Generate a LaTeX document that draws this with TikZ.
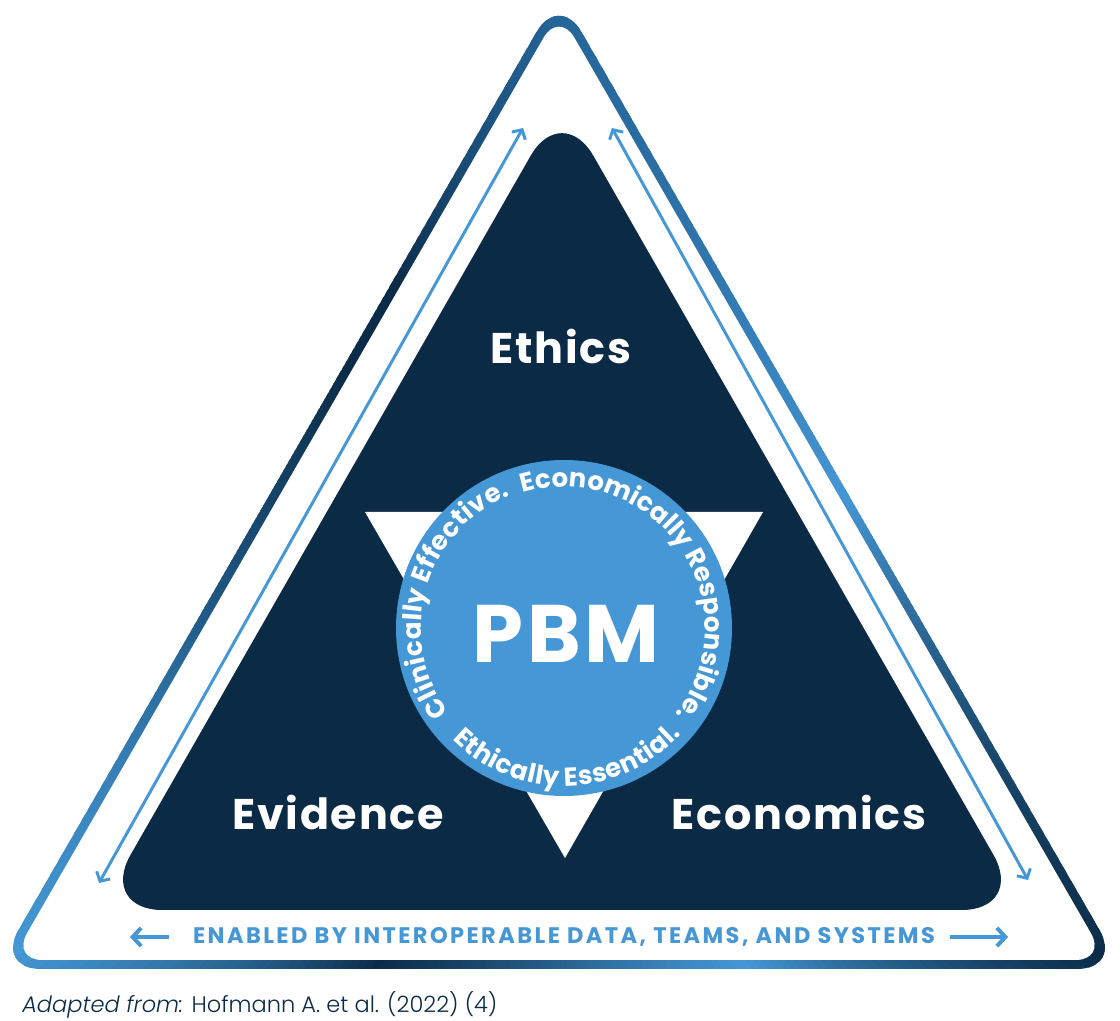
\documentclass[tikz,border=0pt]{standalone}
\usepackage{fontspec}
\setmainfont{Poppins}
\IfFontExistsTF{Poppins Light}{\newfontfamily\sourcefont{Poppins Light}}{\newfontfamily\sourcefont{Poppins}}
\usetikzlibrary{arrows.meta,decorations.text}

\definecolor{navy}{HTML}{0A2A45}
\definecolor{ringdark}{HTML}{0B2C48}
\definecolor{skyblue}{HTML}{4597D5}
\definecolor{midblue}{HTML}{25669A}
\definecolor{sideblue}{HTML}{1F5884}

\begin{document}
\begin{tikzpicture}[x=0.025cm,y=0.025cm,
  pillar/.style={text=white,font=\bfseries\fontsize{30.5}{32}\selectfont\addfontfeatures{LetterSpace=4}},
  sidearrow/.style={skyblue,line width=2.1pt,{Straight Barb[length=5pt,width=11pt]}-{Straight Barb[length=5pt,width=11pt]}},
  basearrow/.style={skyblue,line width=2.8pt,-{Straight Barb[length=6pt,width=13pt]}},
  ringtext/.style={decorate,decoration={text along path,text align=fit to path,
    text={|\bfseries\fontsize{18.5}{18.5}\selectfont\color{white}|#1}}}]
\useasboundingbox (0,0) rectangle (1120,1021);

% Outer ring, colour running round it
\begin{scope}
\clip[rounded corners=32] (559,1028) -- (-4,52) -- (1122,52) -- cycle;
\begin{scope}[shift={(560,381)}]
\foreach \a/\ca/\b/\cb in {90/midblue/115/ringdark, 115/ringdark/130/ringdark,
    130/ringdark/175/sideblue, 175/sideblue/210/skyblue, 210/skyblue/241/ringdark,
    241/ringdark/300/skyblue, 300/skyblue/330/ringdark, 330/ringdark/387/skyblue,
    387/skyblue/450/midblue}
  \foreach \t in {\a,...,\b}{
    \pgfmathsetmacro\mix{100*(\t-\a)/(\b-\a)}
    \fill[\cb!\mix!\ca] (0,0) -- (\t-0.8:900) -- (\t+0.8:900) -- cycle;
  }
\end{scope}
\end{scope}
\fill[white,rounded corners=22] (559,1010) -- (11.6,61) -- (1106.4,61) -- cycle;

% Dark triangle and white notch
\fill[navy,rounded corners=45] (562,920) -- (99,111) -- (1025,111) -- cycle;
\fill[white] (365,509) -- (763,509) -- (565,163) -- cycle;

% PBM disc
\fill[skyblue] (564,393) circle[radius=168];
\node[text=white,font=\bfseries\fontsize{58}{58}\selectfont\addfontfeatures{LetterSpace=4}] (pbm) at (566,387) {PBM};
\path[ringtext={Economically Responsible.}] ([shift={(107:141)}]564,393) arc[start angle=107,end angle=-37,radius=141];
\path[ringtext={Clinically Effective. }] ([shift={(216:143)}]564,393) arc[start angle=216,end angle=112,radius=143];
\path[ringtext={Ethically Essential.}] ([shift={(225:158)}]564,393) arc[start angle=225,end angle=318,radius=158];

% Labels
\node[pillar] (ethics) at (561,674) {Ethics};
\node[pillar] (evidence) at (338,209) {Evidence};
\node[pillar] (economics) at (799,209) {Economics};

% Side arrows
\coordinate (ltop) at (523,893);
\coordinate (lbot) at (99,138);
\coordinate (rtop) at (612,893);
\coordinate (rbot) at (1028,141);
\draw[sidearrow] (lbot) -- (ltop);
\draw[sidearrow] (rtop) -- (rbot);

% Base line
\node[text=skyblue,font=\bfseries\fontsize{16}{16}\selectfont\addfontfeatures{LetterSpace=10.8}] (enabled) at (564,84) {ENABLED BY INTEROPERABLE DATA, TEAMS, AND SYSTEMS};
\coordinate (bltail) at (169,84);
\coordinate (bl) at (130,84);
\coordinate (brtail) at (950,84);
\coordinate (br) at (1008,84);
\draw[basearrow] (bltail) -- (bl);
\draw[basearrow] (brtail) -- (br);

% Source
\node[anchor=base west,text=navy,font=\sourcefont\fontsize{16}{16}\selectfont,inner sep=0] (source) at (22,9) {\textit{Adapted from:} Hofmann A. et al. (2022) (4)};
\end{tikzpicture}
\end{document}
